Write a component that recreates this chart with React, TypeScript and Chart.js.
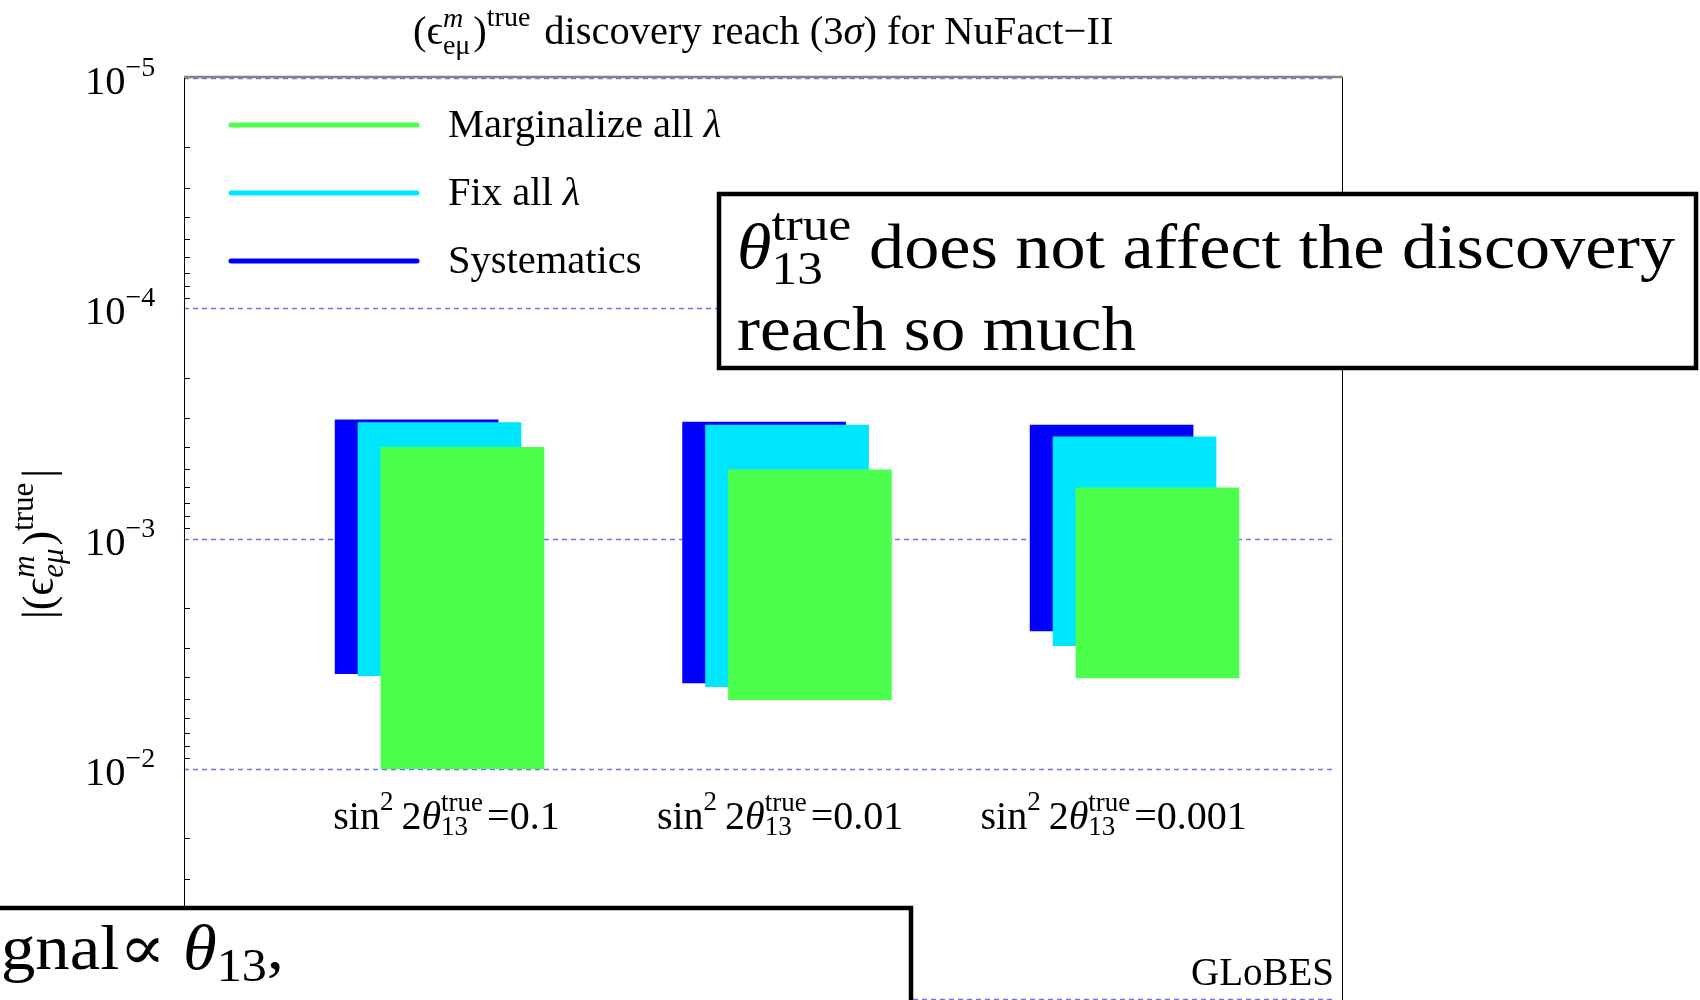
import React, { useEffect, useRef } from 'react';
import { Chart, registerables } from 'chart.js';

Chart.register(...registerables);

// sin^2 2θ13 values, one group of bars each
const CATEGORY_VALUES = ['0.1', '0.01', '0.001'];
const CATEGORY_POS = [1, 2, 3];

// discovery reach intervals |(ε^m_eμ)^true| : [best reach, weakest reach]
const SYSTEMATICS_LOW = [3.05e-4, 3.12e-4, 3.22e-4];
const SYSTEMATICS_HIGH = [3.86e-3, 4.24e-3, 2.52e-3];
const FIX_LOW = [3.14e-4, 3.22e-4, 3.62e-4];
const FIX_HIGH = [3.94e-3, 4.4e-3, 2.92e-3];
const MARG_LOW = [4.02e-4, 5.03e-4, 6.03e-4];
const MARG_HIGH = [1.0e-2, 5.01e-3, 4.03e-3];

// y-axis decades (log scale, reversed)
const Y_DECADES = [-5, -4, -3, -2, -1];
const SERIES_LABELS = ['Marginalize all λ', 'Fix all λ', 'Systematics'];

// layout / style
const SERIF = '"Liberation Serif", "DejaVu Serif", serif';
const COLORS = ['#4dff4d', '#00e6ff', '#0000ff'];
const SERIES_SHIFT = [0.066, 0, -0.066];
const LABEL_X = [1.02, 1.98, 2.94];
const BAR_PX = 163;
const FS = 40.5;
const FS_SCRIPT = 28;

type Piece = any;

function fontOf(p: Piece) {
  return `${p.i ? 'italic ' : ''}${p.s}px ${SERIF}`;
}

function measurePieces(ctx: CanvasRenderingContext2D, pieces: Piece[]) {
  let w = 0;
  for (const p of pieces) {
    if ('gap' in p) w += p.gap;
    else if ('stack' in p) {
      let mw = 0;
      for (const q of p.stack) {
        ctx.font = fontOf(q);
        mw = Math.max(mw, ctx.measureText(q.t).width);
      }
      w += mw;
    } else {
      ctx.font = fontOf(p);
      w += ctx.measureText(p.t).width;
    }
  }
  return w;
}

function drawPieces(ctx: CanvasRenderingContext2D, pieces: Piece[], x: number, y: number) {
  let cx = x;
  ctx.textAlign = 'left';
  ctx.textBaseline = 'alphabetic';
  for (const p of pieces) {
    if ('gap' in p) cx += p.gap;
    else if ('stack' in p) {
      let mw = 0;
      for (const q of p.stack) {
        ctx.font = fontOf(q);
        ctx.fillText(q.t, cx, y + (q.dy || 0));
        mw = Math.max(mw, ctx.measureText(q.t).width);
      }
      cx += mw;
    } else {
      ctx.font = fontOf(p);
      ctx.fillText(p.t, cx, y + (p.dy || 0));
      cx += ctx.measureText(p.t).width;
    }
  }
  return cx;
}

function drawFitted(ctx: CanvasRenderingContext2D, pieces: Piece[], x: number, y: number, width: number) {
  const w = measurePieces(ctx, pieces);
  ctx.save();
  ctx.translate(x, y);
  ctx.scale(width / w, 1);
  drawPieces(ctx, pieces, 0, 0);
  ctx.restore();
}

const backgroundPlugin = {
  id: 'paper',
  beforeDraw(chart: any) {
    const { ctx, width, height } = chart;
    ctx.save();
    ctx.fillStyle = '#ffffff';
    ctx.fillRect(0, 0, width, height);
    ctx.restore();
  },
};

const framePlugin = {
  id: 'frame',
  beforeDatasetsDraw(chart: any) {
    const { ctx, chartArea: a } = chart;
    const y = chart.scales.y;
    ctx.save();
    // dashed decade grid lines
    ctx.strokeStyle = 'rgba(90, 90, 230, 0.85)';
    ctx.lineWidth = 1.4;
    ctx.setLineDash([5, 4]);
    for (const k of Y_DECADES) {
      const py = Math.round(y.getPixelForValue(Math.pow(10, k))) + 0.5;
      ctx.beginPath();
      ctx.moveTo(a.left, py);
      ctx.lineTo(a.right - 8, py);
      ctx.stroke();
    }
    ctx.setLineDash([]);
    // minor ticks on the left axis, pointing inward
    ctx.strokeStyle = '#000';
    ctx.lineWidth = 1;
    for (const k of Y_DECADES.slice(0, -1)) {
      for (let m = 2; m <= 9; m++) {
        const py = Math.round(y.getPixelForValue(m * Math.pow(10, k))) + 0.5;
        ctx.beginPath();
        ctx.moveTo(a.left, py);
        ctx.lineTo(a.left + 6, py);
        ctx.stroke();
      }
    }
    // frame
    ctx.beginPath();
    ctx.moveTo(a.left + 0.5, a.top - 1);
    ctx.lineTo(a.left + 0.5, chart.height);
    ctx.moveTo(a.right + 0.5, a.top - 1);
    ctx.lineTo(a.right + 0.5, chart.height);
    ctx.stroke();
    ctx.strokeStyle = '#858585';
    ctx.lineWidth = 2.5;
    ctx.beginPath();
    ctx.moveTo(a.left, a.top - 1);
    ctx.lineTo(a.right + 1, a.top - 1);
    ctx.stroke();
    ctx.restore();
  },
};

const overlayPlugin = {
  id: 'overlay',
  afterDraw(chart: any) {
    const { ctx, chartArea: a } = chart;
    const xs = chart.scales.x;
    const ys = chart.scales.y;
    ctx.save();
    ctx.fillStyle = '#000';

    // title
    drawPieces(ctx, [
      { t: '(', s: FS },
      { t: 'ϵ', s: FS },
      { stack: [{ t: 'm', s: FS_SCRIPT, i: true, dy: -17 }, { t: 'eμ', s: FS_SCRIPT, dy: 10 }] },
      { gap: 3 },
      { t: ')', s: FS },
      { t: 'true', s: FS_SCRIPT, dy: -18 },
      { gap: 14 },
      { t: 'discovery reach (3', s: FS },
      { t: 'σ', s: FS, i: true },
      { t: ') for NuFact−II', s: FS },
    ], 413, 44);

    // y tick labels
    for (const k of Y_DECADES) {
      const py = ys.getPixelForValue(Math.pow(10, k));
      drawPieces(ctx, [{ t: '10', s: FS }, { t: '−' + Math.abs(k), s: FS_SCRIPT, dy: -18 }], 85, py + 16);
    }

    // y axis title
    const yTitle = [
      { t: '|(', s: 44 },
      { t: 'ϵ', s: 44 },
      { stack: [{ t: 'm', s: 31, i: true, dy: -19 }, { t: 'eμ', s: 31, i: true, dy: 10 }] },
      { gap: 3 },
      { t: ')', s: 44 },
      { t: 'true', s: 31, dy: -20 },
      { gap: 5 },
      { t: '|', s: 44 },
    ];
    ctx.save();
    ctx.translate(53, 544);
    ctx.rotate(-Math.PI / 2);
    drawPieces(ctx, yTitle, -measurePieces(ctx, yTitle) / 2, 0);
    ctx.restore();

    // group labels
    const labelY = ys.getPixelForValue(1e-2) + 60;
    CATEGORY_VALUES.forEach((v, i) => {
      const pieces = [
        { t: 'sin', s: 40 },
        { t: '2', s: 27, dy: -19 },
        { gap: 8 },
        { t: '2', s: 40 },
        { t: 'θ', s: 40, i: true },
        { stack: [{ t: 'true', s: 27, dy: -18 }, { t: '13', s: 27, dy: 6 }] },
        { gap: 4 },
        { t: '=' + v, s: 40 },
      ];
      const cx = xs.getPixelForValue(LABEL_X[i]);
      drawPieces(ctx, pieces, cx - measurePieces(ctx, pieces) / 2, labelY);
    });

    // legend
    const legendY = [125, 193, 261];
    SERIES_LABELS.forEach((label, i) => {
      ctx.strokeStyle = COLORS[i];
      ctx.lineWidth = 5;
      ctx.lineCap = 'round';
      ctx.beginPath();
      ctx.moveTo(231, legendY[i]);
      ctx.lineTo(417, legendY[i]);
      ctx.stroke();
      const parts = label.split('λ');
      const pieces: Piece[] = [{ t: parts[0], s: FS }];
      if (parts.length > 1) pieces.push({ t: 'λ', s: FS, i: true });
      drawPieces(ctx, pieces, 448, legendY[i] + 12);
    });

    // GLoBES mark
    ctx.font = `39px ${SERIF}`;
    ctx.textAlign = 'right';
    ctx.fillText('GLoBES', a.right - 8, 985);
    ctx.textAlign = 'left';

    // remark boxes
    ctx.lineWidth = 4.5;
    ctx.strokeStyle = '#000';
    ctx.fillStyle = '#fff';
    ctx.fillRect(719, 194, 977, 174);
    ctx.strokeRect(719, 194, 977, 174);
    ctx.fillRect(-10, 908, 921, 200);
    ctx.strokeRect(-10, 908, 921, 200);

    ctx.fillStyle = '#000';
    drawFitted(ctx, [
      { t: 'θ', s: 63, i: true },
      { stack: [{ t: 'true', s: 46, dy: -28 }, { t: '13', s: 46, dy: 16 }] },
      { gap: 16 },
      { t: 'does not affect the discovery', s: 63 },
    ], 737, 268, 938);
    drawFitted(ctx, [{ t: 'reach so much', s: 63 }], 737, 350, 399);
    drawFitted(ctx, [
      { t: 'gnal∝ ', s: 63 },
      { t: 'θ', s: 63, i: true },
      { t: '13', s: 46, dy: 12 },
      { t: ',', s: 63 },
    ], 1, 969, 283);

    ctx.restore();
  },
};

export default function App() {
  const ref = useRef<HTMLCanvasElement>(null);

  useEffect(() => {
    const lows = [MARG_LOW, FIX_LOW, SYSTEMATICS_LOW];
    const highs = [MARG_HIGH, FIX_HIGH, SYSTEMATICS_HIGH];
    const datasets = SERIES_LABELS.map((label, s) => ({
      label,
      data: CATEGORY_POS.map((p, i) => ({ x: p + SERIES_SHIFT[s], y: [lows[s][i], highs[s][i]] })),
      backgroundColor: COLORS[s],
      borderWidth: 0,
      grouped: false,
      barThickness: BAR_PX,
      order: s,
    }));

    const chart = new Chart(ref.current as HTMLCanvasElement, {
      type: 'bar',
      data: { datasets } as any,
      options: {
        animation: false,
        responsive: false,
        devicePixelRatio: 1,
        layout: { padding: { left: 184, right: 358, top: 78, bottom: 1 } },
        plugins: {
          legend: { display: false },
          tooltip: { enabled: false },
          title: { display: false },
        },
        scales: {
          x: { type: 'linear', min: 0.2647, max: 3.597, offset: false, display: false },
          y: { type: 'logarithmic', reverse: true, min: 1e-5, max: 1e-1, display: false },
        },
      } as any,
      plugins: [backgroundPlugin, framePlugin, overlayPlugin],
    });
    return () => chart.destroy();
  }, []);

  return (
    <div style={{ position: 'fixed', left: 0, top: 0, width: 1700, height: 1000, background: '#fff' }}>
      <canvas ref={ref} width={1700} height={1000} style={{ display: 'block', width: 1700, height: 1000 }} />
    </div>
  );
}
